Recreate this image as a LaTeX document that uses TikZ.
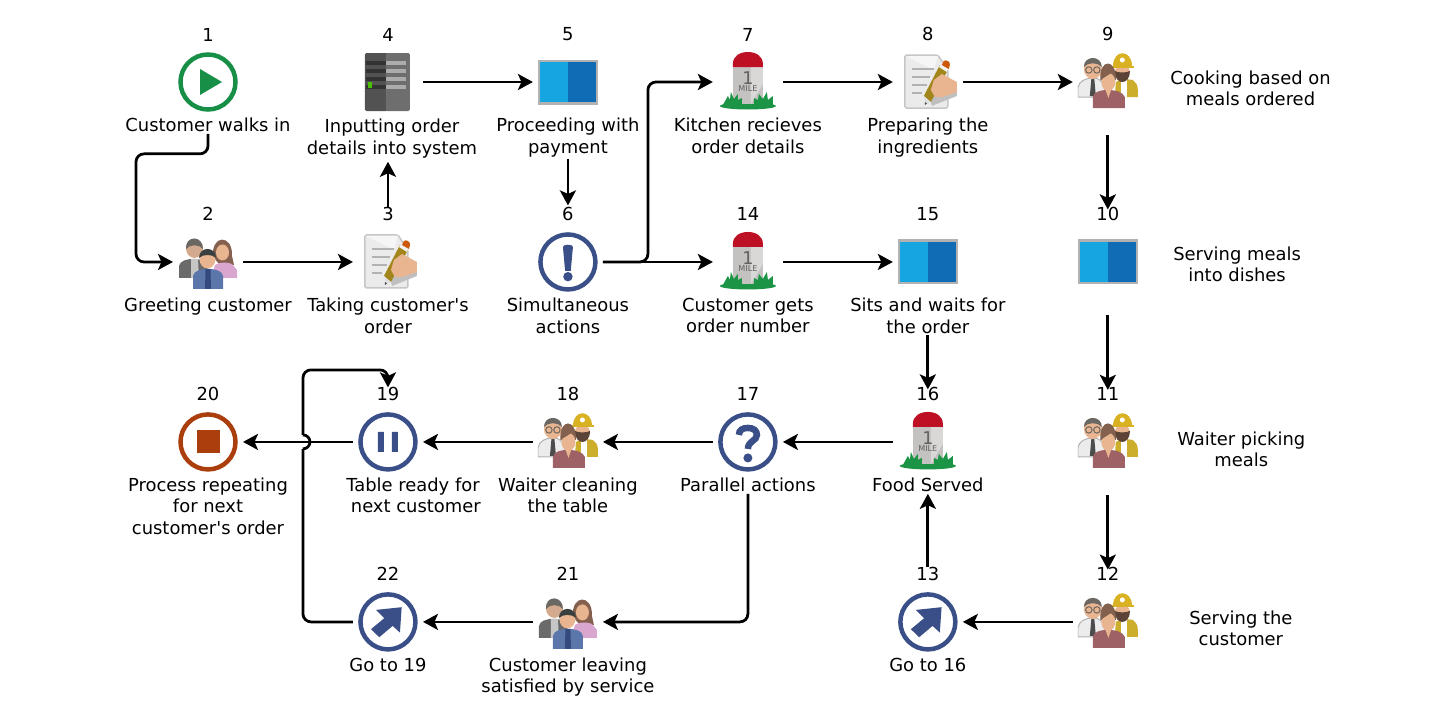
\documentclass[tikz,border=0pt]{standalone}
\usepackage{fontspec}
\setmainfont{DejaVu Sans}
\usepackage{xcolor}
\usetikzlibrary{positioning,arrows.meta,calc}

\definecolor{startgreen}{HTML}{188F47}
\definecolor{markblue}{HTML}{3A4F87}
\definecolor{stoprust}{HTML}{AB3E0D}
\definecolor{skin}{HTML}{E8B590}
\definecolor{hairbrown}{HTML}{84604F}
\definecolor{hairgrey}{HTML}{6B6763}
\definecolor{hairdark}{HTML}{3A3F40}
\definecolor{suitgrey}{HTML}{6A6A6A}
\definecolor{shirtlilac}{HTML}{D8A6CF}
\definecolor{suitblue}{HTML}{5A76AA}
\definecolor{tieblue}{HTML}{34497D}
\definecolor{hatyellow}{HTML}{D9B224}
\definecolor{coatyellow}{HTML}{CDAE2C}
\definecolor{dressrose}{HTML}{9E6266}
\definecolor{grassgreen}{HTML}{1B9446}
\definecolor{stonegrey}{HTML}{C4C2C0}
\definecolor{stonelight}{HTML}{DAD8D6}
\definecolor{capred}{HTML}{BE1024}
\definecolor{boxlight}{HTML}{15A5E0}
\definecolor{boxdark}{HTML}{0F6CB5}

% icons, in pixels round the middle of their node
\newcommand{\iconring}[1]{\draw[#1, line width=0.09cm] (0,0) circle (27.5);}
\newcommand{\iconpeople}{
    \fill[suitgrey] (-29,16) -- (-29,4) .. controls (-28,-1) and (-22,-3) .. (-14,-3) .. controls (-6,-3) and (0,-1) .. (1,16) -- cycle;
    \fill[gray!45] (-17,-3) -- (-10,-3) -- (-9,16) -- (-17,16) -- cycle;
    \fill[skin!80!gray] (-13.5,-13.5) ellipse (8.5 and 9.5);
    \fill[hairgrey] (-22,-13) .. controls (-23,-27) and (-5,-27) .. (-5,-13) .. controls (-9,-18) and (-18,-18) .. (-22,-13);
    \fill[hairbrown] (5,-5) .. controls (3,-28) and (25,-28) .. (24,-6) -- (26,3) -- (12,3) -- cycle;
    \fill[shirtlilac] (3,16) -- (7,3) .. controls (10,0) and (20,0) .. (24,2) -- (29,8) -- (29,16) -- cycle;
    \fill[skin] (14.5,-9.5) ellipse (6.5 and 8);
    \fill[suitblue] (-15,27) -- (-15,14) .. controls (-14,9) and (-8,7) .. (0,7) .. controls (8,7) and (14,9) .. (15,14) -- (15,27) -- cycle;
    \fill[tieblue] (-2.5,7) -- (2.5,7) -- (3,27) -- (-3,27) -- cycle;
    \fill[skin] (-0.5,-3) ellipse (8 and 9.5);
    \fill[hairdark] (-9,-4) .. controls (-9,-16) and (8,-16) .. (8,-4) .. controls (4,-8) and (-5,-8) .. (-9,-4);
}
\newcommand{\iconworkers}{
    \fill[gray!15, draw=gray!60, line width=0.02cm] (-30,15) -- (-30,6) .. controls (-29,-1) and (-22,-4) .. (-15,-4) .. controls (-8,-4) and (-3,-1) .. (-2,15) -- cycle;
    \fill[black!70] (-16.5,-3) -- (-13.5,-3) -- (-12,14) -- (-18,14) -- cycle;
    \fill[skin] (-15,-13) ellipse (9 and 10);
    \fill[hairgrey] (-24,-15) .. controls (-24,-27) and (-6,-27) .. (-6,-15) .. controls (-10,-20) and (-20,-20) .. (-24,-15);
    \draw[hairgrey, line width=0.02cm] (-19,-12) circle (3.2) (-11,-12) circle (3.2);
    \fill[coatyellow] (7,15) -- (8,0) .. controls (12,-3) and (20,-3) .. (25,-2) .. controls (28,0) and (30,3) .. (30,8) -- (30,15) -- cycle;
    \fill[white] (13,15) -- (13,-2) -- (19,-2) -- (19,15) -- cycle;
    \fill[skin] (14.5,-10) ellipse (7.5 and 7);
    \fill[hairbrown!70!black] (7,-11) .. controls (10,-9) and (19,-9) .. (22,-11) .. controls (22,-3) and (18,0) .. (14.5,0) .. controls (11,0) and (7,-3) .. (7,-11);
    \fill[hatyellow] (5,-16) .. controls (5,-33) and (24,-33) .. (24,-16) -- cycle;
    \fill[hatyellow] (3,-16.5) -- (26,-16.5) -- (26,-14.5) -- (3,-14.5) -- cycle;
    \fill[white] (14.5,-22) circle (2.5);
    \fill[dressrose] (-15,26) -- (-15,15) .. controls (-14,10) and (-8,8) .. (0,8) .. controls (8,8) and (15,10) .. (17,15) -- (17,26) -- cycle;
    \fill[hairbrown] (-7.5,-2) .. controls (-9,-24) and (9,-24) .. (8,-2) -- cycle;
    \fill[skin] (0.5,0) ellipse (7 and 9);
    \fill[skin] (-3,6) -- (4,6) -- (0.5,16) -- cycle;
    \fill[hairbrown] (-7,-2) .. controls (-4,-5) and (2,-7) .. (5,-11) .. controls (7,-8) and (8,-5) .. (8,-2) .. controls (10,-14) and (-9,-16) .. (-7,-2);
}
\newcommand{\iconmile}{
    \fill[grassgreen] (0,24) ellipse (28 and 3.5);
    \fill[stonegrey] (-15,-18) -- (15,-18) -- (15,22) -- (-15,22) -- cycle;
    \fill[stonelight] (3,-18) -- (15,-18) -- (15,2) -- (3,22) -- cycle;
    \fill[capred] (-15,-15) -- (-15,-18) .. controls (-15,-26) and (-8,-30) .. (0,-30) .. controls (8,-30) and (15,-26) .. (15,-18) -- (15,-15) -- cycle;
    \fill[grassgreen] (-25,23) -- (-20,14) -- (-18,18) -- (-17,10) -- (-14,17) -- (-10,12) -- (-10,18) -- (-6,16) -- (-6,23) -- cycle;
    \fill[grassgreen] (25,23) -- (25,14) -- (20,18) -- (19,10) -- (15,17) -- (11,12) -- (10,18) -- (6,16) -- (6,23) -- cycle;
}
\newcommand{\iconpaper}{
    \fill[gray!16, draw=gray!45, line width=0.03cm, rounded corners=0.03cm] (-23,-27) -- (10,-27) -- (20,-12) -- (20,26) -- (-23,26) -- cycle;
    \fill[gray!7] (-22,-26) -- (10,-26) -- (6,-12) -- cycle;
    \draw[gray!60, line width=0.03cm] (-16,-13) -- (6,-13) (-16,-5) -- (2,-5) (-16,3) -- (-1,3) (-16,11) -- (-6,11);
    \fill[gray!50] (29,10) -- (29,14) -- (4,24) -- (2,15) -- cycle;
    \fill[hatyellow!75!black] (-4,14) -- (12,-17) -- (20,-12) -- (3,20) -- cycle;
    \fill[gray!10] (11,-15) -- (14,-19) -- (21,-15) -- (19,-10) -- cycle;
    \fill[stoprust!60!orange] (14,-17) -- (16,-21) .. controls (18,-23) and (23,-20) .. (22,-17) -- (21,-13) -- cycle;
    \fill[gray!25] (-4,14) -- (3,20) -- (-2,23) -- cycle;
    \fill[black!70] (-3,20) -- (-1,21.5) -- (-3,23) -- cycle;
    \fill[skin] (6,-2) -- (14,-8) -- (29,0) -- (29,10) -- (15,15) -- (7,15) -- (3,8) -- cycle;
}
\newcommand{\iconserver}{
    \fill[black!68, rounded corners=0.03cm] (-23,-29) rectangle (0,29);
    \fill[black!57, rounded corners=0.03cm] (-2,-29) rectangle (22,29);
    \foreach \rowy in {-21,-13,-5,3} {
        \fill[black!80] (-22,\rowy) rectangle (-2,\rowy+3.5);
        \fill[gray!65] (-2,\rowy) rectangle (18,\rowy+3.5);
    }
    \fill[green!60!yellow!75!black] (-20,0) rectangle (-16,6);
}
\newcommand{\iconbox}{
    \fill[gray!60] (-30,-22.5) rectangle (30,22.5);
    \fill[boxlight] (-28,-20) rectangle (0,20);
    \fill[boxdark] (0,-20) rectangle (28,20);
}

\tikzset{
    px/.style={shift={(path picture bounding box.center)}},
    stepicon/.style={minimum size=1.2cm, inner sep=0pt, outer sep=0.1cm},
    playicon/.style={stepicon, path picture={\begin{scope}[px]
        \iconring{startgreen}
        \fill[startgreen] (-8,-13) -- (14,0) -- (-8,13) -- cycle;
    \end{scope}}},
    stopicon/.style={stepicon, path picture={\begin{scope}[px]
        \iconring{stoprust}
        \fill[stoprust] (-11.5,-11.5) rectangle (11.5,11.5);
    \end{scope}}},
    pauseicon/.style={stepicon, path picture={\begin{scope}[px]
        \iconring{markblue}
        \fill[markblue] (-10,-10) rectangle (-4,10) (4,-10) rectangle (10,10);
    \end{scope}}},
    bangicon/.style={stepicon, path picture={\begin{scope}[px]
        \iconring{markblue}
        \fill[markblue] (-5,-15) .. controls (-5,-18) and (5,-18) .. (5,-15) -- (2.8,9) -- (-2.8,9) -- cycle;
        \fill[markblue] (0,14.7) circle (4.7);
    \end{scope}}},
    asksicon/.style={stepicon, path picture={\begin{scope}[px]
        \iconring{markblue}
        \draw[markblue, line width=0.13cm] (-9,-7) .. controls (-9,-12) and (-5,-14) .. (0,-14) .. controls (6,-14) and (9,-11) .. (9,-7) .. controls (9,-1) and (0,-1) .. (0,7);
        \fill[markblue] (0,16) circle (4.5);
    \end{scope}}},
    gotoicon/.style={stepicon, path picture={\begin{scope}[px]
        \iconring{markblue}
        \fill[markblue] (13.7,-14.7) -- (-12,-12) -- (-3.7,-3.7) -- (-17,7.3) -- (-8.7,15.3) -- (4.7,4) -- (12,10.7) -- cycle;
    \end{scope}}},
    peopleicon/.style={stepicon, path picture={\begin{scope}[px]\iconpeople\end{scope}}},
    workersicon/.style={stepicon, path picture={\begin{scope}[px]\iconworkers\end{scope}}},
    mileicon/.style={stepicon, path picture={\begin{scope}[px]\iconmile\end{scope}},
        label={[milemark, yshift=0.08cm, font=\fontsize{10}{10}\selectfont]center:1},
        label={[milemark, yshift=-0.14cm, font=\fontsize{4.6}{5}\selectfont]center:MILE}},
    papericon/.style={stepicon, path picture={\begin{scope}[px]\iconpaper\end{scope}}},
    servericon/.style={stepicon, path picture={\begin{scope}[px]\iconserver\end{scope}}},
    boxicon/.style={stepicon, path picture={\begin{scope}[px]\iconbox\end{scope}}},
    milemark/.style={inner sep=0pt, text=gray!75!black},
    numtext/.style={inner sep=0pt, outer sep=0pt, font=\fontsize{10.2}{12.2}\selectfont},
    steptext/.style={inner sep=0pt, outer sep=0.04cm, yshift=0.02cm, align=center, font=\fontsize{10.2}{12.2}\selectfont},
    wire/.style={line width=0.055cm},
    flow/.style={wire, -{Stealth[length=0.3cm,width=0.32cm,inset=0.07cm]}},
    bentflow/.style={flow, rounded corners=0.16cm}
}

\begin{document}
\begin{tikzpicture}[x=0.02cm, y=-0.02cm, node distance=2.2cm]
    \useasboundingbox (0,0) rectangle (1440,720);

    % top row
    \node [playicon] (walkin) at (208,82) {};
    \node [servericon, right=of walkin] (inputting) {};
    \node [boxicon, right=of inputting] (payment) {};
    \node [mileicon, right=of payment] (kitchen) {};
    \node [papericon, right=of kitchen] (ingredients) {};
    \node [workersicon, right=of ingredients] (cooking) {};
    % second row
    \node [peopleicon, below=of walkin] (greeting) {};
    \node [papericon, right=of greeting] (taking) {};
    \node [bangicon, right=of taking] (simultaneous) {};
    \node [mileicon, right=of simultaneous] (ordernumber) {};
    \node [boxicon, right=of ordernumber] (sits) {};
    \node [boxicon, right=of sits] (dishes) {};
    % third row
    \node [stopicon, below=of greeting] (repeating) {};
    \node [pauseicon, right=of repeating] (ready) {};
    \node [workersicon, right=of ready] (cleaning) {};
    \node [asksicon, right=of cleaning] (parallel) {};
    \node [mileicon, right=of parallel] (served) {};
    \node [workersicon, right=of served] (picking) {};
    % bottom row
    \node [gotoicon, below=of ready] (goback) {};
    \node [peopleicon, right=of goback] (leaving) {};
    \node [gotoicon, below=of served] (goserved) {};
    \node [workersicon, right=of goserved] (servingcust) {};

    % numbers
    \foreach \stepname/\stepnum in {walkin/1, greeting/2, taking/3, inputting/4, payment/5, simultaneous/6, kitchen/7, ingredients/8, cooking/9, dishes/10, picking/11, servingcust/12, goserved/13, ordernumber/14, sits/15, served/16, parallel/17, cleaning/18, ready/19, repeating/20, leaving/21, goback/22}
        \node [numtext, above=0.12cm of \stepname] (num\stepnum) {\stepnum};

    % labels
    \node [steptext, below=0cm of walkin] (twalkin) {Customer walks in};
    \node [steptext, below=0.02cm of inputting, xshift=0.08cm] (tinputting) {Inputting order\\details into system};
    \node [steptext, below=0cm of payment] (tpayment) {Proceeding with\\payment};
    \node [steptext, below=0cm of kitchen] (tkitchen) {Kitchen recieves\\order details};
    \node [steptext, below=0cm of ingredients] (tingredients) {Preparing the\\ingredients};
    \node [steptext, right=0.51cm of cooking, yshift=-0.15cm] (tcooking) {Cooking based on\\meals ordered};
    \node [steptext, below=0cm of greeting] (tgreeting) {Greeting customer};
    \node [steptext, below=0cm of taking] (ttaking) {Taking customer\textquotesingle s\\order};
    \node [steptext, below=0cm of simultaneous] (tsimultaneous) {Simultaneous\\actions};
    \node [steptext, below=0cm of ordernumber] (tordernumber) {Customer gets\\order number};
    \node [steptext, below=0cm of sits] (tsits) {Sits and waits for\\the order};
    \node [steptext, right=0.57cm of dishes, yshift=-0.07cm] (tdishes) {Serving meals\\into dishes};
    \node [steptext, below=0cm of repeating] (trepeating) {Process repeating\\for next\\customer\textquotesingle s order};
    \node [steptext, below=0cm of ready, xshift=0.5cm] (tready) {Table ready for\\ \ next customer};
    \node [steptext, below=0cm of cleaning] (tcleaning) {Waiter cleaning\\the table};
    \node [steptext, below=0cm of parallel] (tparallel) {Parallel actions};
    \node [steptext, below=0cm of served] (tserved) {Food Served};
    \node [steptext, right=0.65cm of picking, yshift=-0.17cm] (tpicking) {Waiter picking\\meals};
    \node [steptext, right=0.89cm of servingcust, yshift=-0.15cm] (tservingcust) {Serving the\\customer};
    \node [steptext, below=0cm of goback] (tgoback) {Go to 19};
    \node [steptext, below=0cm of leaving] (tleaving) {Customer leaving\\satisfied by service};
    \node [steptext, below=0cm of goserved] (tgoserved) {Go to 16};

    \draw [bentflow] (twalkin.south) -- ++(0,20) -- ++(-72,0) |- (greeting.west);
    \draw [flow] (greeting) -- (taking);
    \draw [flow, shorten >=0.04cm] (num3.north) -- (num3.north |- tinputting.south);
    \draw [flow] (inputting) -- (payment);
    \draw [flow, shorten >=0.04cm] (tpayment.south) -- (num6.north);
    \draw [bentflow] (simultaneous.east) -- ++(45,0) |- (kitchen.west);
    \draw [flow] (simultaneous) -- (ordernumber);
    \draw [flow] (kitchen) -- (ingredients);
    \draw [flow] (ingredients) -- (cooking);
    \draw [flow, shorten >=-0.04cm] (cooking.south) ++(0,18) -- (num10);
    \draw [flow, shorten >=-0.04cm] (dishes.south) ++(0,18) -- (num11);
    \draw [flow, shorten >=-0.04cm] (picking.south) ++(0,18) -- (num12);
    \draw [flow] (servingcust) -- (goserved);
    \draw [flow] (num13.north) -- (tserved.south);
    \draw [flow] (ordernumber) -- (sits);
    \draw [flow, shorten >=-0.04cm] (tsits.south) -- (num16.north);
    \draw [flow] (served) -- (parallel);
    \draw [flow] (parallel) -- (cleaning);
    \draw [flow] (cleaning) -- (ready);
    \draw [flow] (ready) -- (repeating);
    \draw [bentflow] (tparallel.south) |- (leaving.east);
    \draw [flow] (leaving) -- (goback);
    % the line back to 19 hops over the one from 19 to 20
    \draw [wire, rounded corners=0.16cm] (goback.west) -| ++(-50,-173) coordinate (hoplow);
    \draw [wire] (hoplow) arc[start angle=90, end angle=-90, radius=7] coordinate (hophigh);
    \draw [bentflow] (hophigh) -- ++(0,-65) -- ++(85,0) -- (num19.north);
\end{tikzpicture}
\end{document}
